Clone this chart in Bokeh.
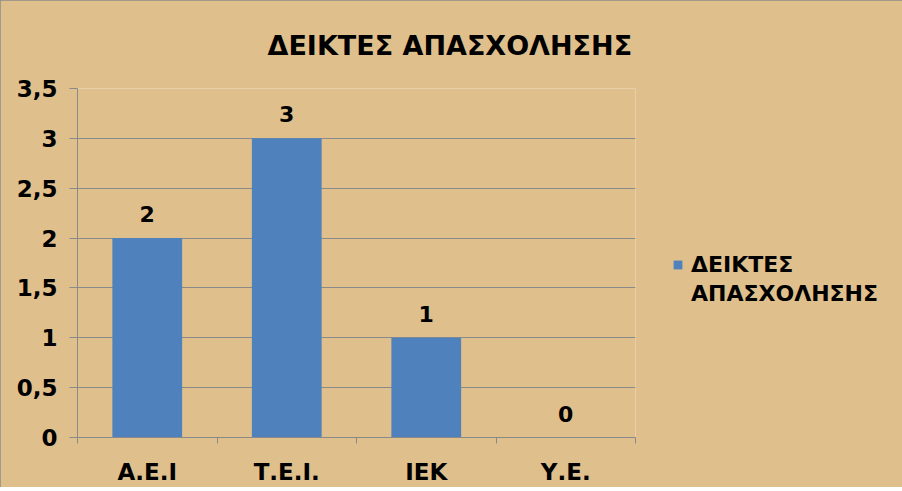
from bokeh.plotting import figure
from bokeh.models import (ColumnDataSource, Range1d, LinearAxis, CategoricalAxis,
                          FixedTicker, CustomJSTickFormatter, Legend, LegendItem)
from bokeh.core.properties import value
from bokeh.embed import file_html
from bokeh.resources import INLINE

# data
categories = ["Α.Ε.Ι", "Τ.Ε.Ι.", "ΙΕΚ", "Υ.Ε."]
values = [2, 3, 1, 0]
series_name = "ΔΕΙΚΤΕΣ ΑΠΑΣΧΟΛΗΣΗΣ"
y_ticks = [0, 0.5, 1, 1.5, 2, 2.5, 3, 3.5]

FONT = "DejaVu Sans"
WOOD = "#DFBF8C"
GRID = "#8A8A8A"
BLUE = "#4F81BD"

source = ColumnDataSource(dict(cat=categories, val=values, lbl=[str(v) for v in values]))

p = figure(
    x_range=categories,
    y_range=Range1d(0, 3.5),
    frame_width=558,
    frame_height=349,
    title=series_name,
    output_backend="svg",
    toolbar_location=None,
    x_axis_location=None,
    y_axis_location=None,
    min_border_left=77,
    min_border_right=251,
    min_border_top=82,
    min_border_bottom=44,
    background_fill_color=WOOD,
    border_fill_color=WOOD,
    outline_line_color=None,
)
p.styles = {"outline": "3px solid #8C8C8C", "outline-offset": "-3px"}

p.title.align = "left"
p.title.offset = 190
p.title.standoff = 55
p.title.text_font = FONT
p.title.text_font_size = "27px"
p.title.text_font_style = "bold"
p.title.text_color = "black"

p.xgrid.grid_line_color = None
p.ygrid.ticker = FixedTicker(ticks=y_ticks)
p.ygrid.grid_line_color = GRID

# y axis with comma decimals
y_axis = LinearAxis(
    ticker=FixedTicker(ticks=y_ticks),
    formatter=CustomJSTickFormatter(code="return tick.toString().replace('.', ',')"),
    axis_line_color=GRID,
    major_tick_line_color=GRID,
    major_tick_out=8,
    major_tick_in=0,
    minor_tick_line_color=None,
    major_label_text_font=FONT,
    major_label_text_font_size="23px",
    major_label_text_font_style="bold",
    major_label_text_color="black",
    major_label_standoff=12,
)
p.add_layout(y_axis, "left")

# x axis: tick marks sit between the categories (synthetic positions 0..n)
edge_axis = LinearAxis(
    ticker=FixedTicker(ticks=list(range(len(categories) + 1))),
    formatter=CustomJSTickFormatter(code="return ''"),
    axis_line_color=GRID,
    major_tick_line_color=GRID,
    major_tick_out=6,
    major_tick_in=0,
    minor_tick_line_color=None,
    major_label_standoff=0,
)
p.add_layout(edge_axis, "below")
cat_axis = CategoricalAxis(
    axis_line_color=None,
    major_tick_line_color=None,
    major_label_text_font=FONT,
    major_label_text_font_size="23px",
    major_label_text_font_style="bold",
    major_label_text_color="black",
    major_label_standoff=9,
)
p.add_layout(cat_axis, "below")

bars = p.vbar(x="cat", top="val", width=0.5, source=source, fill_color=BLUE, line_color=None)
# empty, invisible renderer so the legend label can wrap onto a second row
wrap = p.vbar(x=[], top=[], width=0.5, fill_alpha=0, line_alpha=0)

p.text(x="cat", y="val", text="lbl", source=source, text_align="center",
       text_baseline="bottom", y_offset=-16, text_font=value(FONT),
       text_font_size="22px", text_font_style="bold", text_color="black")

words = series_name.split(" ")
legend = Legend(
    items=[LegendItem(label=words[0], renderers=[bars]),
           LegendItem(label=words[1], renderers=[wrap])],
    location=(37, 131),
    border_line_color=None,
    background_fill_alpha=0,
    label_text_font=FONT,
    label_text_font_size="22px",
    label_text_font_style="bold",
    label_text_color="black",
    label_height=25,
    glyph_width=11,
    glyph_height=11,
    label_standoff=8,
    spacing=4,
    margin=0,
    padding=0,
)
p.add_layout(legend, "right")

open("out.html", "w").write(file_html(p, INLINE))
